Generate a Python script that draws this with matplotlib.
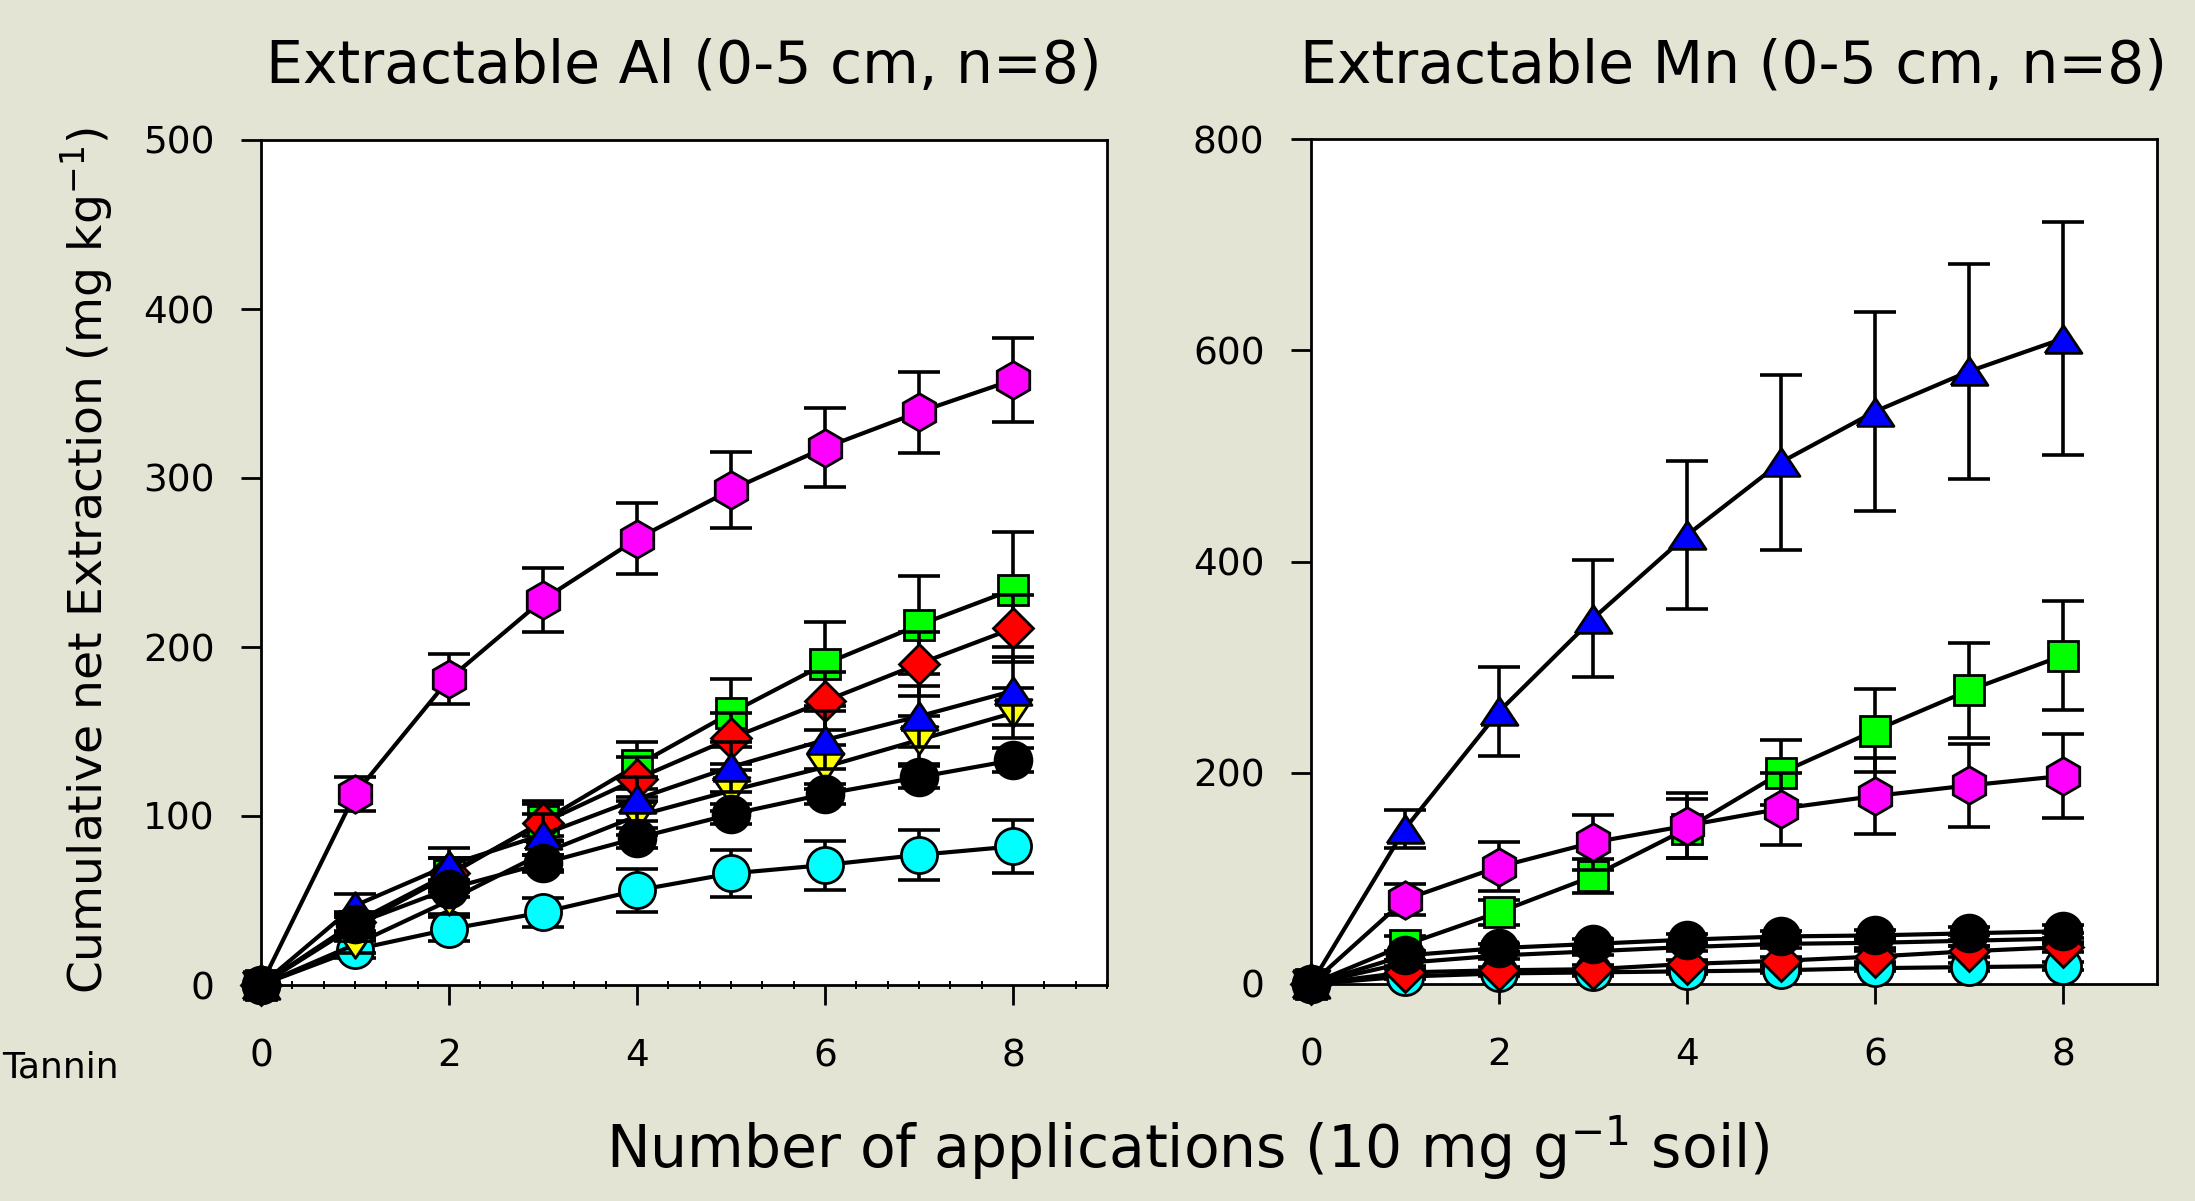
import matplotlib
matplotlib.use("Agg")
import matplotlib.pyplot as plt
from matplotlib.ticker import MultipleLocator

# ---------------- data ----------------
applications = [0, 1, 2, 3, 4, 5, 6, 7, 8]
x_ticks = [0, 2, 4, 6, 8]
al_y_ticks = [0, 100, 200, 300, 400, 500]
mn_y_ticks = [0, 200, 400, 600, 800]

# Extractable Al (mg/kg), mean and SE
al_cyan = [0, 21, 33, 43, 56, 66, 71, 77, 82]
al_cyan_se = [0, 5, 7, 8.5, 12.8, 14, 14.5, 15, 15.7]
al_yellow = [0, 24, 50, 78, 100, 115, 129, 145, 161]
al_yellow_se = [0, 5, 8, 10, 11, 12, 13, 14, 15]
al_green = [0, 35, 65, 97, 130, 161, 190, 213, 234]
al_green_se = [0, 7, 10, 12, 14, 20, 25, 29, 34]
al_red = [0, 37, 66, 96, 122, 146, 168, 190, 211]
al_red_se = [0, 6, 9, 11, 13, 15, 17, 19, 20]
al_blue = [0, 47, 71, 89, 110, 129, 145, 159, 174]
al_blue_se = [0, 7, 10, 12, 13, 15, 17, 18, 20]
al_magenta = [0, 113, 181, 228, 264, 293, 318, 339, 358]
al_magenta_se = [0, 10, 15, 19, 21, 22.5, 23.5, 24, 25]
al_black = [0, 36, 57, 72, 87, 101, 113, 123, 133]
al_black_se = [0, 4, 5, 5, 6, 6, 6, 6.5, 7]

# Extractable Mn (mg/kg), mean and SE
mn_cyan = [0, 7, 10, 11, 12, 13, 15, 16, 17]
mn_cyan_se = [0, 2, 2, 3, 3, 3, 3, 4, 4]
mn_yellow = [0, 20, 27, 31, 35, 38, 39, 41, 43]
mn_yellow_se = [0, 3, 3, 4, 4, 4, 5, 5, 5]
mn_green = [0, 37, 68, 102, 147, 200, 240, 278, 311]
mn_green_se = [0, 8, 12, 16, 28, 31, 39, 45, 52]
mn_red = [0, 11, 13, 14, 19, 22, 26, 31, 35]
mn_red_se = [0, 3, 3, 4, 4, 4, 5, 5, 5]
mn_blue = [0, 147, 258, 346, 425, 494, 542, 580, 611]
mn_blue_se = [0, 18, 42, 55, 70, 83, 94, 102, 110]
mn_magenta = [0, 80, 111, 134, 150, 166, 178, 188, 197]
mn_magenta_se = [0, 15, 23, 26, 31, 34, 36, 39, 40]
mn_black = [0, 27, 34, 38, 42, 45, 46, 48, 50]
mn_black_se = [0, 4, 4, 5, 5, 5, 5, 6, 6]

# ---------------- styles ----------------
tri_up = [(-1, -0.75), (1, -0.75), (0, 0.75), (-1, -0.75)]
tri_down = [(-1, 0.75), (1, 0.75), (0, -0.75), (-1, 0.75)]

series_style = [
    # (key, facecolor, marker, markersize)
    ("cyan", "#00FFFF", "o", 26),
    ("yellow", "#FFFF00", tri_down, 26.6),
    ("green", "#00FF00", "s", 22),
    ("red", "#FF0000", "D", 20.5),
    ("blue", "#0000FF", tri_up, 26.6),
    ("magenta", "#FF00FF", "h", 27),
    ("black", "#000000", "o", 26.5),
]

al_data = {
    "cyan": (al_cyan, al_cyan_se), "yellow": (al_yellow, al_yellow_se),
    "green": (al_green, al_green_se), "red": (al_red, al_red_se),
    "blue": (al_blue, al_blue_se), "magenta": (al_magenta, al_magenta_se),
    "black": (al_black, al_black_se),
}
mn_data = {
    "cyan": (mn_cyan, mn_cyan_se), "yellow": (mn_yellow, mn_yellow_se),
    "green": (mn_green, mn_green_se), "red": (mn_red, mn_red_se),
    "blue": (mn_blue, mn_blue_se), "magenta": (mn_magenta, mn_magenta_se),
    "black": (mn_black, mn_black_se),
}

BG = "#E4E4D4"
plt.rcParams["font.family"] = ["DejaVu Sans"]

fig = plt.figure(figsize=(21.95, 12.01), dpi=100)
fig.patch.set_facecolor(BG)

ax_al = fig.add_axes([261 / 2195, 1 - 985 / 1201, 846 / 2195, 845 / 1201])
ax_mn = fig.add_axes([1311 / 2195, 1 - 984 / 1201, 846 / 2195, 845 / 1201])


def draw_panel(ax, data, ylim, yticks, minor_x):
    ax.set_facecolor("white")
    for i, (key, fc, mk, ms) in enumerate(series_style):
        vals, se = data[key]
        z = 3 + i
        ax.errorbar(applications[1:], vals[1:], yerr=se[1:], fmt="none",
                    ecolor="black", elinewidth=2.6, capsize=14.8,
                    capthick=2.6, zorder=z, clip_on=False)
        ax.plot(applications, vals, color="black", lw=3.0, marker=mk,
                ms=ms, mfc=fc, mec="black", mew=2.0,
                markevery=list(range(1, len(applications))),
                zorder=z + 0.5, clip_on=False)
        # starting point drawn in black
        ax.plot(applications[:1], vals[:1], linestyle="none", marker=mk,
                ms=ms, mfc="black", mec="black", mew=2.0,
                zorder=20, clip_on=False)
    ax.set_xlim(0, 9)
    ax.set_ylim(*ylim)
    ax.set_xticks(x_ticks)
    ax.set_yticks(yticks)
    ax.tick_params(axis="both", which="major", direction="out",
                   length=14.4, width=2.0, labelsize=27, color="black")
    ax.tick_params(axis="x", which="major", pad=24)
    ax.tick_params(axis="y", which="major", pad=19)
    ax.tick_params(top=False, right=False)
    if minor_x:
        ax.xaxis.set_minor_locator(MultipleLocator(1 / 3))
        ax.tick_params(axis="x", which="minor", direction="inout",
                       length=6, width=1.4)
    for sp in ax.spines.values():
        sp.set_linewidth(2.0)
        sp.set_color("black")


draw_panel(ax_al, al_data, (0, 500), al_y_ticks, True)
draw_panel(ax_mn, mn_data, (0, 800), mn_y_ticks, False)

# titles
fig.text(684 / 2195, 1 - 83 / 1201, "Extractable Al (0-5 cm, n=8)",
         ha="center", va="baseline", fontsize=42)
fig.text(1734 / 2195, 1 - 83 / 1201, "Extractable Mn (0-5 cm, n=8)",
         ha="center", va="baseline", fontsize=42)

# axis labels
fig.text(87 / 2195, 1 - 560 / 1201,
         r"Cumulative net Extraction (mg kg$^{\mathregular{-1}}$)",
         rotation=90, ha="center", va="center", fontsize=34)
fig.text(1188 / 2195, 1 - 1168 / 1201,
         r"Number of applications (10 mg g$^{\mathregular{-1}}$ soil)",
         ha="center", va="baseline", fontsize=42)
fig.text(2 / 2195, 1 - 1078 / 1201, "Tannin",
         ha="left", va="baseline", fontsize=26)

fig.savefig("out.png", dpi=100, facecolor=BG)
